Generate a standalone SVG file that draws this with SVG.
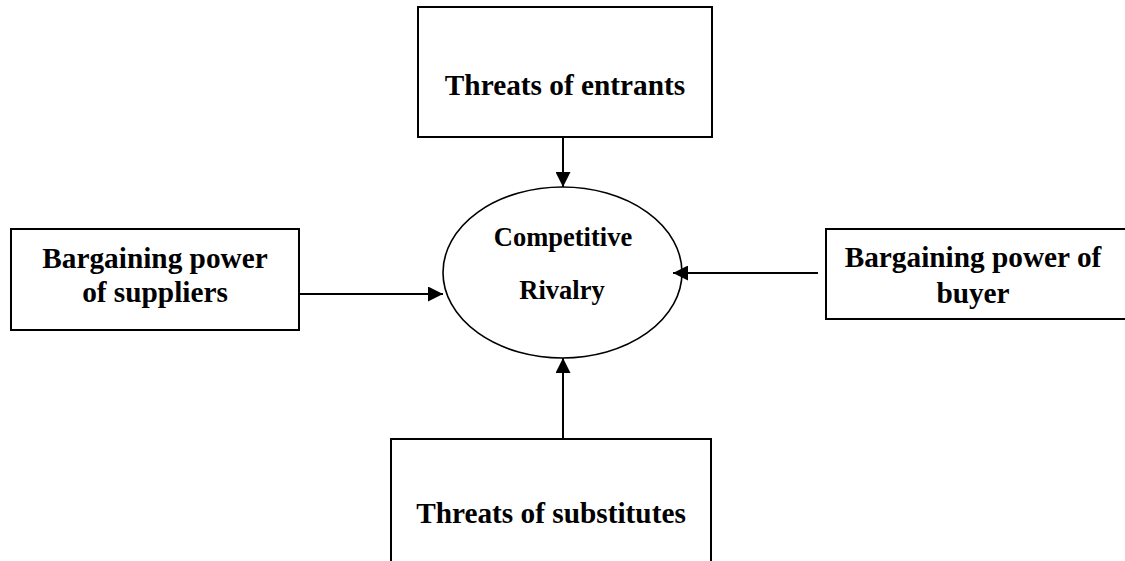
<svg xmlns="http://www.w3.org/2000/svg" width="1125" height="561" viewBox="0 0 1125 561">
<style>
.box{fill:#fff;stroke:#000;stroke-width:2}
.ell{fill:#fff;stroke:#000;stroke-width:1.6}
.t{font-family:"Liberation Serif","Times New Roman",serif;font-weight:bold;font-size:29.3px;fill:#000;text-anchor:middle}
.s{font-size:26.5px}
.c{stroke:#000;stroke-width:2;fill:none}
</style>
<defs>
<marker id="ah" viewBox="0 0 10 10" refX="10" refY="5" markerWidth="15" markerHeight="15" markerUnits="userSpaceOnUse" orient="auto">
<path d="M0,0 L10,5 L0,10 Z" fill="#000"/>
</marker>
</defs>
<rect width="1125" height="561" fill="#fff"/>
<g id="entrants">
<rect class="box" x="418" y="7" width="294" height="130"/>
<text class="t" x="565" y="95">Threats of entrants</text>
</g>
<g id="rivalry">
<ellipse class="ell" cx="562.5" cy="272.5" rx="119.5" ry="85.5"/>
<text class="t s" x="563" y="246">Competitive</text>
<text class="t s" x="562" y="299">Rivalry</text>
</g>
<g id="suppliers">
<rect class="box" x="11" y="229" width="288" height="101"/>
<text class="t" x="155" y="268">Bargaining power</text>
<text class="t" x="155" y="302">of suppliers</text>
</g>
<g id="buyer">
<rect class="box" x="826" y="229" width="310" height="90"/>
<text class="t" x="973" y="267">Bargaining power of</text>
<text class="t" x="973" y="303">buyer</text>
</g>
<g id="substitutes">
<rect class="box" x="391" y="439" width="320" height="140"/>
<text class="t" x="551" y="523">Threats of substitutes</text>
</g>
<g id="connectors">
<line class="c" x1="563" y1="137" x2="563" y2="187" marker-end="url(#ah)"/>
<line class="c" x1="299" y1="294" x2="443" y2="294" marker-end="url(#ah)"/>
<line class="c" x1="818" y1="273" x2="673" y2="273" marker-end="url(#ah)"/>
<line class="c" x1="563" y1="439" x2="563" y2="358" marker-end="url(#ah)"/>
</g>
</svg>
